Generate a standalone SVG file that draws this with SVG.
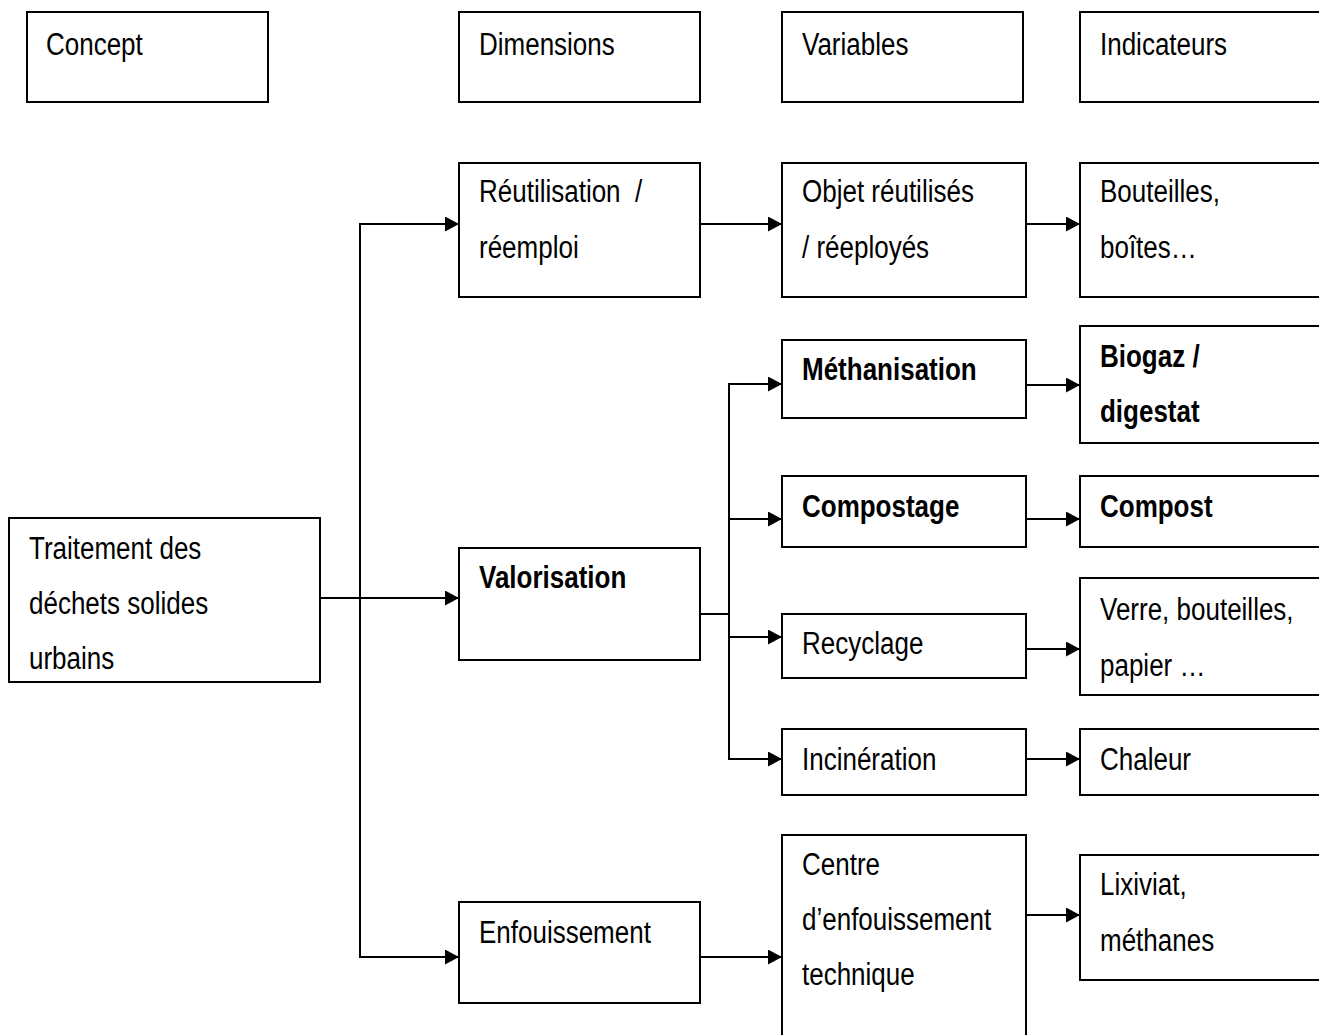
<svg xmlns="http://www.w3.org/2000/svg" width="1319" height="1035" viewBox="0 0 1319 1035">
<defs>
<marker id="ah" markerWidth="14" markerHeight="15" refX="14" refY="7.5" orient="auto" markerUnits="userSpaceOnUse">
<path d="M0,0 L14,7.5 L0,15 Z" fill="#000"/>
</marker>
<style>
rect{fill:#fff;stroke:#000;stroke-width:2}
text{font-family:"Liberation Sans",Arial,sans-serif;font-size:26px;fill:#000}
.b{font-weight:bold}
#connectors path{fill:none;stroke:#000;stroke-width:2}
</style>
</defs>
<rect x="0" y="0" width="1319" height="1035" style="fill:#fff;stroke:none"/>
<g id="connectors">
<path d="M320,598 H459" marker-end="url(#ah)"/>
<path d="M360,598 V224 H459" marker-end="url(#ah)"/>
<path d="M360,598 V957 H459" marker-end="url(#ah)"/>
<path d="M700,224 H782" marker-end="url(#ah)"/>
<path d="M1026,224 H1080" marker-end="url(#ah)"/>
<path d="M700,614 H729"/>
<path d="M729,614 V384 H782" marker-end="url(#ah)"/>
<path d="M729,519 H782" marker-end="url(#ah)"/>
<path d="M729,614 V759 H782" marker-end="url(#ah)"/>
<path d="M729,637 H782" marker-end="url(#ah)"/>
<path d="M1026,385 H1080" marker-end="url(#ah)"/>
<path d="M1026,519 H1080" marker-end="url(#ah)"/>
<path d="M1026,649 H1080" marker-end="url(#ah)"/>
<path d="M1026,759 H1080" marker-end="url(#ah)"/>
<path d="M700,957 H782" marker-end="url(#ah)"/>
<path d="M1026,915 H1080" marker-end="url(#ah)"/>
</g>
<g id="concept"><rect x="27" y="12" width="241" height="90"/><text transform="matrix(1,0,0,1.2,46,55)">Concept</text></g>
<g id="dimensions"><rect x="459" y="12" width="241" height="90"/><text transform="matrix(1,0,0,1.2,479,55)">Dimensions</text></g>
<g id="variables"><rect x="782" y="12" width="241" height="90"/><text transform="matrix(1,0,0,1.2,802,55)">Variables</text></g>
<g id="indicateurs"><rect x="1080" y="12" width="250" height="90"/><text transform="matrix(1,0,0,1.2,1100,55)">Indicateurs</text></g>
<g id="reutilisation"><rect x="459" y="163" width="241" height="134"/><text transform="matrix(1,0,0,1.2,479,202)" xml:space="preserve">Réutilisation  /</text><text transform="matrix(1,0,0,1.2,479,258)">réemploi</text></g>
<g id="objets"><rect x="782" y="163" width="244" height="134"/><text transform="matrix(1,0,0,1.2,802,202)">Objet réutilisés</text><text transform="matrix(1,0,0,1.2,802,258)">/ réeployés</text></g>
<g id="bouteilles"><rect x="1080" y="163" width="250" height="134"/><text transform="matrix(1,0,0,1.2,1100,202)">Bouteilles,</text><text transform="matrix(1,0,0,1.2,1100,258)">boîtes…</text></g>
<g id="methanisation"><rect x="782" y="340" width="244" height="78"/><text class="b" transform="matrix(1,0,0,1.2,802,380)">Méthanisation</text></g>
<g id="biogaz"><rect x="1080" y="326" width="250" height="117"/><text class="b" transform="matrix(1,0,0,1.2,1100,367)">Biogaz /</text><text class="b" transform="matrix(1,0,0,1.2,1100,422)">digestat</text></g>
<g id="compostage"><rect x="782" y="476" width="244" height="71"/><text class="b" transform="matrix(1,0,0,1.2,802,517)">Compostage</text></g>
<g id="compost"><rect x="1080" y="476" width="250" height="71"/><text class="b" transform="matrix(1,0,0,1.2,1100,517)">Compost</text></g>
<g id="traitement"><rect x="9" y="518" width="311" height="164"/><text transform="matrix(1,0,0,1.2,29,559)">Traitement des</text><text transform="matrix(1,0,0,1.2,29,614)">déchets solides</text><text transform="matrix(1,0,0,1.2,29,669)">urbains</text></g>
<g id="valorisation"><rect x="459" y="548" width="241" height="112"/><text class="b" transform="matrix(1,0,0,1.2,479,588)">Valorisation</text></g>
<g id="recyclage"><rect x="782" y="614" width="244" height="64"/><text transform="matrix(1,0,0,1.2,802,654)">Recyclage</text></g>
<g id="verre"><rect x="1080" y="578" width="250" height="117"/><text transform="matrix(1,0,0,1.2,1100,620)">Verre, bouteilles,</text><text transform="matrix(1,0,0,1.2,1100,676)">papier …</text></g>
<g id="incineration"><rect x="782" y="729" width="244" height="66"/><text transform="matrix(1,0,0,1.2,802,770)">Incinération</text></g>
<g id="chaleur"><rect x="1080" y="729" width="250" height="66"/><text transform="matrix(1,0,0,1.2,1100,770)">Chaleur</text></g>
<g id="enfouissement"><rect x="459" y="902" width="241" height="101"/><text transform="matrix(1,0,0,1.2,479,943)">Enfouissement</text></g>
<g id="centre"><rect x="782" y="835" width="244" height="220"/><text transform="matrix(1,0,0,1.2,802,875)">Centre</text><text transform="matrix(1,0,0,1.2,802,930)">d’enfouissement</text><text transform="matrix(1,0,0,1.2,802,985)">technique</text></g>
<g id="lixiviat"><rect x="1080" y="855" width="250" height="125"/><text transform="matrix(1,0,0,1.2,1100,895)">Lixiviat,</text><text transform="matrix(1,0,0,1.2,1100,951)">méthanes</text></g>
</svg>
